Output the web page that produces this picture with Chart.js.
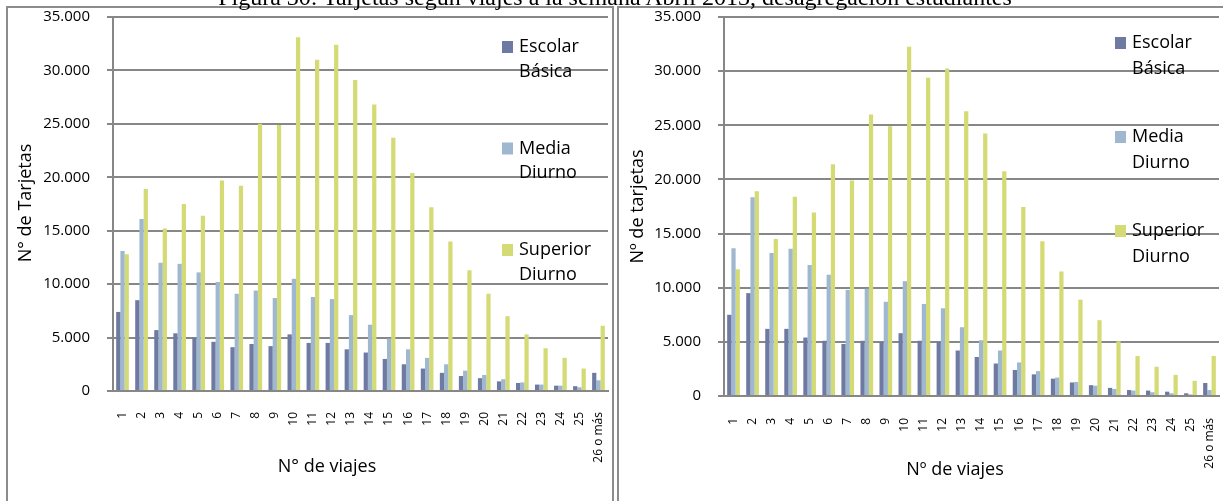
<!DOCTYPE html>
<html>
<head>
<meta charset="utf-8">
<title>Tarjetas según viajes a la semana</title>
<script src="https://cdn.jsdelivr.net/npm/chart.js@4/dist/chart.umd.min.js"></script>
<style>
  html, body { margin: 0; padding: 0; background: #fff; width: 1223px; height: 501px; overflow: hidden; }
  .frame { position: absolute; top: 6px; height: 620px; border: 2px solid #8c8c8c; box-sizing: border-box; background: #fff; }
  #frameA { left: 6px; width: 608px; }
  #frameB { left: 617px; width: 700px; }
  canvas { position: absolute; }
  #chartA { left: 8px; top: 8px; }
  #chartB { left: 619px; top: 8px; }
  .caption { position: absolute; left: 0; top: -15px; width: 1230px; text-align: center;
             font: 24px/24px 'Liberation Serif', 'Times New Roman', serif; color: #000; white-space: nowrap; z-index: 2; }
</style>
</head>
<body>
<div class="frame" id="frameA"></div>
<div class="frame" id="frameB"></div>
<canvas id="chartA" width="604" height="493"></canvas>
<canvas id="chartB" width="604" height="493"></canvas>
<div class="caption">Figura 30: Tarjetas según viajes a la semana Abril 2013, desagregación estudiantes</div>
<script>
// Trips per week (x categories)
const viajes = ['1','2','3','4','5','6','7','8','9','10','11','12','13','14','15','16','17','18','19','20','21','22','23','24','25','26 o más'];

// Series names and colours
const seriesNames = ['Escolar Básica', 'Media Diurno', 'Superior Diurno'];
const seriesColors = ['#6f7aa3', '#9fb8cf', '#d4da74'];

// Left panel: number of cards
const escolarBasicaA = [7400, 8500, 5700, 5400, 5000, 4600, 4100, 4400, 4200, 5300, 4500, 4500, 3900, 3600, 3000, 2500, 2100, 1700, 1400, 1200, 900, 750, 600, 500, 450, 1700];
const mediaDiurnoA   = [13100, 16100, 12000, 11900, 11100, 10200, 9100, 9400, 8700, 10500, 8800, 8600, 7100, 6200, 4900, 3900, 3100, 2500, 1900, 1500, 1100, 800, 600, 500, 350, 1000];
const superiorDiurnoA = [12800, 18900, 15200, 17500, 16400, 19700, 19200, 25000, 24900, 33100, 31000, 32400, 29100, 26800, 23700, 20400, 17200, 14000, 11300, 9100, 7000, 5300, 4000, 3100, 2100, 6100];

// Right panel: number of cards
const escolarBasicaB = [7500, 9500, 6200, 6200, 5400, 5100, 4800, 5100, 5000, 5800, 5100, 5000, 4200, 3600, 3000, 2400, 2000, 1600, 1250, 1000, 750, 550, 500, 400, 250, 1200];
const mediaDiurnoB   = [13650, 18350, 13200, 13600, 12100, 11200, 9800, 9900, 8700, 10600, 8500, 8100, 6350, 5150, 4200, 3100, 2300, 1700, 1300, 950, 650, 500, 350, 250, 150, 550];
const superiorDiurnoB = [11700, 18900, 14500, 18400, 16950, 21400, 19900, 26000, 24900, 32250, 29400, 30250, 26300, 24250, 20750, 17450, 14300, 11500, 8900, 7000, 5050, 3700, 2700, 1950, 1400, 3700];

// Y axis range
const yMin = 0, yMax = 35000, yStep = 5000;

const fmt = v => String(v).replace(/\B(?=(\d{3})+(?!\d))/g, '.');
const FONT = "'Open Sans', 'Noto Sans', sans-serif";
const GRID = '#878787';

// Draws the two-line legend and the axis titles on top of the plot
const captions = {
  id: 'captions',
  afterDatasetsDraw(chart, args, o) {
    const ctx = chart.ctx;
    ctx.save();
    ctx.textBaseline = 'middle';
    ctx.font = '18px ' + FONT;
    chart.data.datasets.forEach((ds, i) => {
      const cy = o.legend.top + i * o.legend.step;
      ctx.fillStyle = ds.backgroundColor;
      ctx.fillRect(o.legend.x, cy - 6, 11, 12);
      ctx.fillStyle = '#000';
      ctx.textAlign = 'left';
      const cut = ds.label.indexOf(' ');
      ctx.fillText(ds.label.slice(0, cut), o.legend.textX, cy);
      ctx.fillText(ds.label.slice(cut + 1), o.legend.textX, cy + o.legend.lineGap);
    });
    ctx.textAlign = 'center';
    ctx.fillText(o.xTitle.text, o.xTitle.x, o.xTitle.y);
    ctx.translate(o.yTitle.x, o.yTitle.y);
    ctx.rotate(-Math.PI / 2);
    ctx.fillText(o.yTitle.text, 0, 0);
    ctx.restore();
  }
};

function buildChart(id, values, box, caps) {
  return new Chart(document.getElementById(id), {
    type: 'bar',
    data: {
      labels: viajes,
      datasets: values.map((v, i) => ({
        label: seriesNames[i],
        data: v,
        backgroundColor: seriesColors[i],
        borderWidth: 0,
        categoryPercentage: 0.667,
        barPercentage: 1.0
      }))
    },
    options: {
      responsive: false,
      animation: false,
      devicePixelRatio: 1,
      layout: { padding: { top: box.top, right: box.right, left: 0, bottom: 0 } },
      plugins: { legend: { display: false }, tooltip: { enabled: false }, captions: caps },
      scales: {
        x: {
          grid: { display: false, drawTicks: false },
          border: { display: true, color: GRID, width: 2 },
          ticks: { color: '#000', font: { family: FONT, size: 12 }, minRotation: 90, maxRotation: 90, autoSkip: false, padding: box.xPad },
          afterFit(s) { s.height = box.xHeight; s.paddingLeft = 0; s.paddingRight = 0; }
        },
        y: {
          min: yMin, max: yMax,
          grid: { color: GRID, lineWidth: 2, tickLength: 6, drawTicks: true },
          border: { display: true, color: GRID, width: 2 },
          ticks: { stepSize: yStep, color: '#000', font: { family: FONT, size: 15 }, padding: 17, callback: v => fmt(v) },
          afterFit(s) { s.width = box.yWidth; s.paddingTop = 0; s.paddingBottom = 0; }
        }
      }
    },
    plugins: [captions]
  });
}

buildChart('chartA', [escolarBasicaA, mediaDiurnoA, superiorDiurnoA],
  { top: 9, right: 4, yWidth: 105, xHeight: 110, xPad: 21 },
  { legend: { x: 494, textX: 511, top: 39, step: 101.5, lineGap: 24.7 },
    xTitle: { text: 'N° de viajes', x: 319, y: 459 },
    yTitle: { text: 'N° de Tarjetas', x: 17.5, y: 195 } });

buildChart('chartB', [escolarBasicaB, mediaDiurnoB, superiorDiurnoB],
  { top: 9, right: 4, yWidth: 105, xHeight: 105, xPad: 22 },
  { legend: { x: 496, textX: 513, top: 35, step: 94, lineGap: 26 },
    xTitle: { text: 'Nº de viajes', x: 336, y: 462 },
    yTitle: { text: 'Nº de tarjetas', x: 18.5, y: 198.5 } });
</script>
</body>
</html>
